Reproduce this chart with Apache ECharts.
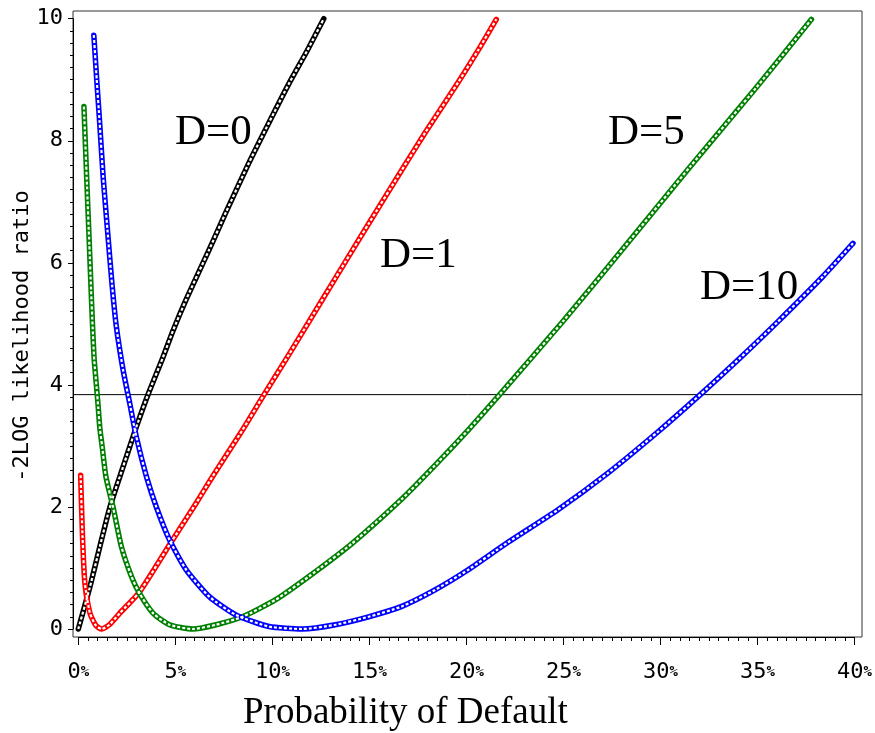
<!DOCTYPE html>
<html><head><meta charset="utf-8">
<script src="https://cdn.jsdelivr.net/npm/echarts@6/dist/echarts.min.js"></script>
<style>html,body{margin:0;padding:0;background:#fff}#c{width:875px;height:733px}</style>
</head><body><div id="c"></div>
<script>
// ---- data (x = probability of default in %, y = -2 log LR)
const d0P = [0, 0.6, 1.11, 1.63, 2.31, 2.99, 3.59, 4.36, 4.87, 5.56, 6.75, 7.61, 8.81, 9.83, 10.86, 11.8, 12.65];
const d0V = [0, 0.69, 1.35, 2.0, 2.66, 3.31, 3.84, 4.45, 4.88, 5.4, 6.22, 6.83, 7.65, 8.3, 8.94, 9.48, 10.0];

const d1P = [0.12, 0.22, 0.34, 0.6, 0.9, 1.2, 1.6, 2.14, 3.16, 4.7, 6.07, 6.92, 8.46, 9.57, 10.86, 11.97, 13.25, 14.96, 16.67, 17.87, 19.6, 20.6, 21.54];
const d1V = [2.52, 1.49, 0.75, 0.26, 0.06, 0, 0.07, 0.26, 0.61, 1.38, 2.06, 2.5, 3.26, 3.84, 4.5, 5.08, 5.75, 6.64, 7.52, 8.13, 8.97, 9.48, 9.99];

const d5P = [0.29, 0.45, 0.57, 0.66, 0.74, 0.82, 0.94, 1.03, 1.11, 1.23, 1.42, 1.79, 2.22, 2.74, 3.16, 3.85, 4.7, 5.9, 7.1, 8.46, 10.17, 11.88, 14.1, 16.67, 18.38, 20.09, 21.71, 25.0, 28.12, 31.54, 34.96, 37.78];
const d5V = [8.56, 7.25, 6.29, 5.55, 4.93, 4.41, 3.97, 3.62, 3.29, 2.99, 2.5, 2.0, 1.35, 0.86, 0.58, 0.26, 0.07, 0, 0.07, 0.2, 0.48, 0.86, 1.4, 2.13, 2.68, 3.26, 3.84, 5.05, 6.25, 7.58, 8.88, 9.99];

const d10P = [0.8, 0.95, 1.1, 1.28, 1.5, 1.74, 1.95, 2.31, 2.65, 2.99, 3.51, 4.02, 4.7, 5.56, 6.75, 8.12, 9.83, 11.54, 13.25, 14.96, 16.67, 18.38, 20.09, 22.14, 24.7, 27.27, 29.83, 32.05, 34.1, 36.0, 38.38, 39.92];
const d10V = [9.73, 9.0, 8.3, 7.41, 6.55, 5.64, 4.98, 4.24, 3.7, 3.15, 2.5, 2.0, 1.46, 0.97, 0.53, 0.23, 0.04, 0, 0.07, 0.2, 0.37, 0.64, 0.97, 1.42, 1.95, 2.55, 3.22, 3.84, 4.44, 5.02, 5.78, 6.32];

const refLine = [3.84];            // horizontal reference level
const xRange = [0, 40, 5];         // min, max, interval (%)
const yRange = [0, 10, 2];
const curveNames = ['D=0', 'D=1', 'D=5', 'D=10'];
const curveColors = ['#000000', '#ff0000', '#008000', '#0000ff'];
const yTitle = '-2LOG likelihood ratio';
const xTitle = 'Probability of Default';

// ---- layout (pixels)
const FR = {l: 73, r: 862, t: 11, b: 637};        // frame box
const DA = {l: 78.3, r: 858.3, t: 18.7, b: 629};  // data area

const chart = echarts.init(document.getElementById('c'), null, {renderer: 'canvas'});
const pairs = (p, v) => p.map((x, i) => [x, v[i]]);

// frame-grid extents matching the data mapping
const xs = (xRange[1] - xRange[0]) / (DA.r - DA.l);
const ys = (yRange[1] - yRange[0]) / (DA.b - DA.t);
const fxMin = xRange[0] - (DA.l - FR.l) * xs, fxMax = xRange[1] + (FR.r - DA.r) * xs;
const fyMin = yRange[0] - (FR.b - DA.b) * ys, fyMax = yRange[1] + (DA.t - FR.t) * ys;

const MONO = '"DejaVu Sans Mono", "Liberation Mono", monospace';
const SERIF = '"Liberation Serif", "DejaVu Serif", serif';

const curves = [[d0P, d0V], [d1P, d1V], [d5P, d5V], [d10P, d10V]];
const series = [];
series.push({
  type: 'line', xAxisIndex: 0, yAxisIndex: 0, silent: true, symbol: 'none',
  data: [[fxMin, refLine[0]], [fxMax, refLine[0]]],
  lineStyle: {color: '#000', width: 1}, z: 2
});
curves.forEach((c, i) => {
  const d = pairs(c[0], c[1]);
  series.push({
    name: curveNames[i], type: 'line', xAxisIndex: 1, yAxisIndex: 1, data: d,
    symbol: 'none', smooth: 0.2, silent: true, clip: false,
    lineStyle: {color: curveColors[i], width: 5.5, cap: 'round', join: 'round'}, z: 3
  });
  series.push({
    type: 'line', xAxisIndex: 1, yAxisIndex: 1, data: d,
    symbol: 'none', smooth: 0.2, silent: true, clip: false,
    lineStyle: {color: '#ffffff', width: 2.2, type: [3, 2]}, z: 4
  });
});

const tickColor = '#000';
chart.setOption({
  animation: false,
  backgroundColor: '#fff',
  grid: [
    {left: FR.l, top: FR.t, width: FR.r - FR.l, height: FR.b - FR.t, show: true,
     borderColor: '#333', borderWidth: 1, backgroundColor: 'transparent'},
    {left: DA.l, top: DA.t, width: DA.r - DA.l, height: DA.b - DA.t, show: false}
  ],
  xAxis: [
    {gridIndex: 0, type: 'value', min: fxMin, max: fxMax, show: false},
    {gridIndex: 1, type: 'value', min: xRange[0], max: xRange[1], interval: xRange[2],
     offset: FR.b - DA.b,
     axisLine: {show: true, onZero: false, lineStyle: {color: tickColor, width: 1}},
     axisTick: {show: true, length: 8, lineStyle: {color: tickColor}},
     minorTick: {show: true, splitNumber: 10, length: 4, lineStyle: {color: tickColor}},
     splitLine: {show: false}, minorSplitLine: {show: false},
     axisLabel: {margin: 24, formatter: v => '{n|' + v + '}{p|%}',
       rich: {n: {fontFamily: MONO, fontSize: 22, color: '#000'},
              p: {fontFamily: MONO, fontSize: 14, fontWeight: 'bold', color: '#000'}}}}
  ],
  yAxis: [
    {gridIndex: 0, type: 'value', min: fyMin, max: fyMax, show: false},
    {gridIndex: 1, type: 'value', min: yRange[0], max: yRange[1], interval: yRange[2],
     offset: DA.l - FR.l,
     axisLine: {show: true, onZero: false, lineStyle: {color: tickColor, width: 1}},
     axisTick: {show: true, length: 5, lineStyle: {color: tickColor}},
     minorTick: {show: true, splitNumber: 10, length: 3, lineStyle: {color: tickColor}},
     splitLine: {show: false}, minorSplitLine: {show: false},
     axisLabel: {margin: 10, fontFamily: MONO, fontSize: 22, color: '#000'}}
  ],
  graphic: [
    {type: 'text', silent: true, x: 22, y: 336, rotation: Math.PI / 2,
     style: {text: yTitle, font: '22px ' + MONO, fill: '#000', align: 'center', verticalAlign: 'middle'}},
    {type: 'text', silent: true, style: {text: 'D=0', x: 175, y: 132.5, font: '43px ' + SERIF, fill: '#000', verticalAlign: 'middle'}},
    {type: 'text', silent: true, style: {text: 'D=1', x: 380, y: 256, font: '43px ' + SERIF, fill: '#000', verticalAlign: 'middle'}},
    {type: 'text', silent: true, style: {text: 'D=5', x: 608, y: 132.5, font: '43px ' + SERIF, fill: '#000', verticalAlign: 'middle'}},
    {type: 'text', silent: true, style: {text: 'D=10', x: 700, y: 287.5, font: '43px ' + SERIF, fill: '#000', verticalAlign: 'middle'}},
    {type: 'text', silent: true, style: {text: xTitle, x: 243, y: 713, font: '37px ' + SERIF, fill: '#000', verticalAlign: 'middle'}}
  ],
  series: series
});
</script></body></html>
